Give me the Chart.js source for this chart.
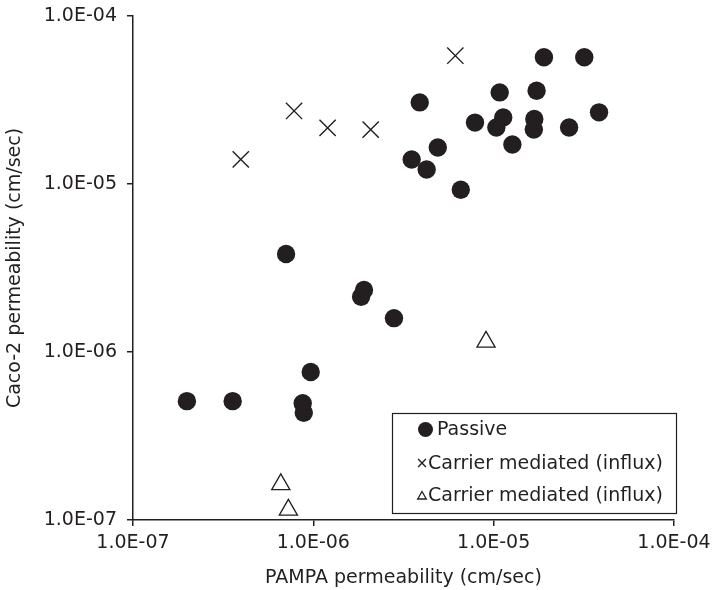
<!DOCTYPE html>
<html>
<head>
<meta charset="utf-8">
<script src="https://cdn.jsdelivr.net/npm/chart.js@4.4.1/dist/chart.umd.min.js"></script>
<style>
  html, body { margin: 0; padding: 0; background: #fff; }
  canvas { display: block; }
</style>
</head>
<body>
<canvas id="permChart" width="713" height="590"></canvas>
<script>
// values (cm/sec)
const passiveX = [1.99e-7, 3.57e-7, 8.73e-7, 8.85e-7, 9.67e-7, 7.06e-7, 1.91e-6, 1.84e-6, 2.80e-6,
  1.90e-5, 3.18e-5, 3.89e-6, 1.08e-5, 1.73e-5, 3.84e-5, 7.88e-6, 1.13e-5, 1.035e-5, 1.68e-5,
  1.67e-5, 2.62e-5, 1.27e-5, 4.90e-6, 3.51e-6, 4.25e-6, 6.57e-6];
const passiveY = [5.1e-7, 5.1e-7, 4.95e-7, 4.35e-7, 7.6e-7, 3.83e-6, 2.34e-6, 2.13e-6, 1.59e-6,
  5.68e-5, 5.68e-5, 3.06e-5, 3.51e-5, 3.59e-5, 2.67e-5, 2.32e-5, 2.49e-5, 2.17e-5, 2.44e-5,
  2.11e-5, 2.17e-5, 1.72e-5, 1.65e-5, 1.40e-5, 1.22e-5, 9.25e-6];
const influxX = [3.96e-7, 7.82e-7, 1.20e-6, 2.08e-6, 6.13e-6];
const influxY = [1.40e-5, 2.72e-5, 2.16e-5, 2.11e-5, 5.8e-5];
const influx2X = [6.6e-7, 7.27e-7, 9.07e-6];
const influx2Y = [1.63e-7, 1.15e-7, 1.15e-6];

const seriesLabels = ['Passive', 'Carrier mediated (influx)', 'Carrier mediated (influx)'];
const tickValues = [1e-7, 1e-6, 1e-5, 1e-4];
const tickLabels = ['1.0E-07', '1.0E-06', '1.0E-05', '1.0E-04'];

const ink = '#231f20';
const fontFamily = '"DejaVu Sans", Arial, sans-serif';

const toPoints = (xs, ys) => xs.map((x, i) => ({ x: x, y: ys[i] }));

// only the decade ticks, labelled like the original
function decadeTicks(scale) {
  scale.ticks = tickValues.map(v => ({ value: v }));
}
function tickLabel(value) {
  const i = tickValues.findIndex(v => Math.abs(Math.log10(v) - Math.log10(value)) < 1e-6);
  return i >= 0 ? tickLabels[i] : '';
}

// legend box inside the plot, bottom right
const boxLegend = {
  id: 'boxLegend',
  afterDraw(chart) {
    const ctx = chart.ctx;
    const left = 392, top = 413, w = 284, h = 100;
    ctx.save();
    ctx.strokeStyle = ink;
    ctx.lineWidth = 1.2;
    ctx.fillStyle = '#fff';
    ctx.fillRect(left, top, w, h);
    ctx.strokeRect(left + 0.5, top + 0.5, w, h);
    const rows = [429.5, 463, 495.5];
    const markerSizes = [7.5, 5.5, 5];
    const textX = [437, 428, 428];
    const markerX = [425.5, 422, 422];
    ctx.font = '19px ' + fontFamily;
    ctx.textBaseline = 'middle';
    ctx.textAlign = 'left';
    chart.data.datasets.forEach((ds, i) => {
      ctx.fillStyle = ds.backgroundColor;
      ctx.strokeStyle = ds.borderColor;
      ctx.lineWidth = ds.borderWidth;
      Chart.helpers.drawPoint(ctx, {
        pointStyle: ds.pointStyle,
        radius: markerSizes[i],
        rotation: 0,
        borderWidth: ds.borderWidth
      }, markerX[i], rows[i] + (i === 2 ? 1 : 0));
      ctx.fillStyle = ink;
      ctx.fillText(ds.label, textX[i], rows[i] + 1);
    });
    ctx.restore();
  }
};

new Chart(document.getElementById('permChart').getContext('2d'), {
  type: 'scatter',
  data: {
    datasets: [
      {
        label: seriesLabels[0],
        data: toPoints(passiveX, passiveY),
        pointStyle: 'circle',
        pointRadius: 9.2,
        backgroundColor: ink,
        borderColor: ink,
        borderWidth: 0
      },
      {
        label: seriesLabels[1],
        data: toPoints(influxX, influxY),
        pointStyle: 'crossRot',
        pointRadius: 11.5,
        backgroundColor: ink,
        borderColor: ink,
        borderWidth: 1.4
      },
      {
        label: seriesLabels[2],
        data: toPoints(influx2X, influx2Y),
        pointStyle: 'triangle',
        pointRadius: 10.5,
        backgroundColor: '#fff',
        borderColor: ink,
        borderWidth: 1.3
      }
    ]
  },
  options: {
    responsive: false,
    animation: false,
    devicePixelRatio: 1,
    layout: { padding: { top: 16, right: 39, left: 0, bottom: 0 } },
    plugins: {
      legend: { display: false },
      tooltip: { enabled: false }
    },
    scales: {
      x: {
        type: 'logarithmic',
        min: 1e-7,
        max: 1e-4,
        afterBuildTicks: decadeTicks,
        afterFit(scale) { scale.height = 70; scale.paddingLeft = 0; scale.paddingRight = 0; },
        grid: { display: true, drawOnChartArea: false, drawTicks: true, tickLength: 6, color: ink, lineWidth: 1.5 },
        border: { display: true, color: ink, width: 1.5 },
        ticks: {
          color: ink,
          padding: 6,
          maxRotation: 0,
          autoSkip: false,
          font: { family: fontFamily, size: 19 },
          callback: tickLabel
        },
        title: {
          display: true,
          text: 'PAMPA permeability (cm/sec)',
          color: ink,
          font: { family: fontFamily, size: 19 },
          padding: { top: 0, bottom: 1 }
        }
      },
      y: {
        type: 'logarithmic',
        min: 1e-7,
        max: 1e-4,
        afterBuildTicks: decadeTicks,
        afterFit(scale) { scale.width = 133; scale.paddingTop = 0; scale.paddingBottom = 0; },
        grid: { display: true, drawOnChartArea: false, drawTicks: true, tickLength: 6, color: ink, lineWidth: 1.5 },
        border: { display: true, color: ink, width: 1.5 },
        ticks: {
          color: ink,
          padding: 10,
          autoSkip: false,
          font: { family: fontFamily, size: 19 },
          callback: tickLabel
        },
        title: {
          display: true,
          text: 'Caco-2 permeability (cm/sec)',
          color: ink,
          font: { family: fontFamily, size: 19 },
          padding: { top: 4, bottom: 0 }
        }
      }
    }
  },
  plugins: [boxLegend]
});
</script>
</body>
</html>
